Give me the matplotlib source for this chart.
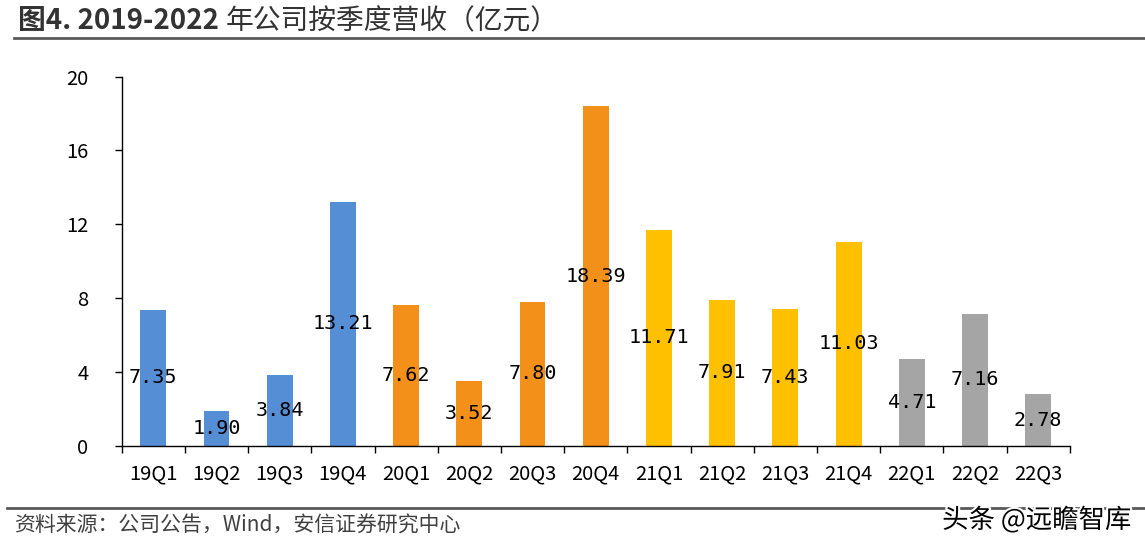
import matplotlib.pyplot as plt
from matplotlib.lines import Line2D
from matplotlib.transforms import offset_copy
import matplotlib.patheffects as pe
import numpy as np

plt.rcParams['font.family'] = ['Noto Sans CJK SC', 'DejaVu Sans']

quarters = ['19Q1', '19Q2', '19Q3', '19Q4', '20Q1', '20Q2', '20Q3', '20Q4',
            '21Q1', '21Q2', '21Q3', '21Q4', '22Q1', '22Q2', '22Q3']
revenue = [7.35, 1.90, 3.84, 13.21, 7.62, 3.52, 7.80, 18.39,
           11.71, 7.91, 7.43, 11.03, 4.71, 7.16, 2.78]
year_colors = {'19': '#558ED5', '20': '#F39019', '21': '#FFC000', '22': '#A5A5A5'}
y_ticks = [0, 4, 8, 12, 16, 20]

fig = plt.figure(figsize=(11.45, 5.51), dpi=100)
ax = fig.add_axes([0.1063, 0.191, 0.828, 0.670])

x = np.arange(len(quarters))
colors = [year_colors[q[:2]] for q in quarters]
ax.bar(x, revenue, width=0.41, color=colors, zorder=2)

# value labels sit in the middle of each bar
for xi, v in zip(x, revenue):
    ax.text(xi, v / 2, f"{v:.2f}", ha='center', va='center', fontsize=14.5,
            family=['DejaVu Sans Mono'], color='black', zorder=3)

ax.set_xlim(-0.5, len(quarters) - 0.5)
ax.set_ylim(0, 20)
ax.set_yticks(y_ticks)
ax.set_yticklabels([str(t) for t in y_ticks], fontsize=14.5)
ax.set_xticks(x)
ax.set_xticklabels(quarters, fontsize=14.5)
ax.set_xticks(np.arange(len(quarters) + 1) - 0.5, minor=True)
ax.tick_params(axis='x', which='major', length=0, pad=13)
ax.tick_params(axis='x', which='minor', length=5, direction='out', width=1)
ax.tick_params(axis='y', which='major', length=5, direction='out', pad=19, width=1)

for side in ['top', 'right']:
    ax.spines[side].set_visible(False)
for side in ['left', 'bottom']:
    ax.spines[side].set_linewidth(1)
    ax.spines[side].set_color('black')

# title: bold figure number, regular chinese text
t1 = fig.text(0.016, 0.962, '图4. 2019-2022 ', fontsize=20, fontweight='bold',
              color='#333333', ha='left', va='center')
fig.canvas.draw()
w = t1.get_window_extent().width
fig.text(0.016, 0.962, '年公司按季度营收（亿元）', fontsize=20, color='#333333',
         ha='left', va='center',
         transform=offset_copy(fig.transFigure, fig=fig, x=w, y=0, units='dots'))
fig.add_artist(Line2D([0.012, 1.0], [0.931, 0.931], color='#595959', lw=2))
fig.add_artist(Line2D([0.006, 1.0], [0.078, 0.078], color='#595959', lw=2))

fig.text(0.012, 0.046, '资料来源：公司公告，Wind，安信证券研究中心', fontsize=15,
         color='#404040', ha='left', va='center')
fig.text(0.988, 0.056, '头条 @远瞻智库', fontsize=19, color='black', ha='right', va='center',
         path_effects=[pe.withStroke(linewidth=3, foreground='white')])

fig.savefig('out.png', dpi=100)
